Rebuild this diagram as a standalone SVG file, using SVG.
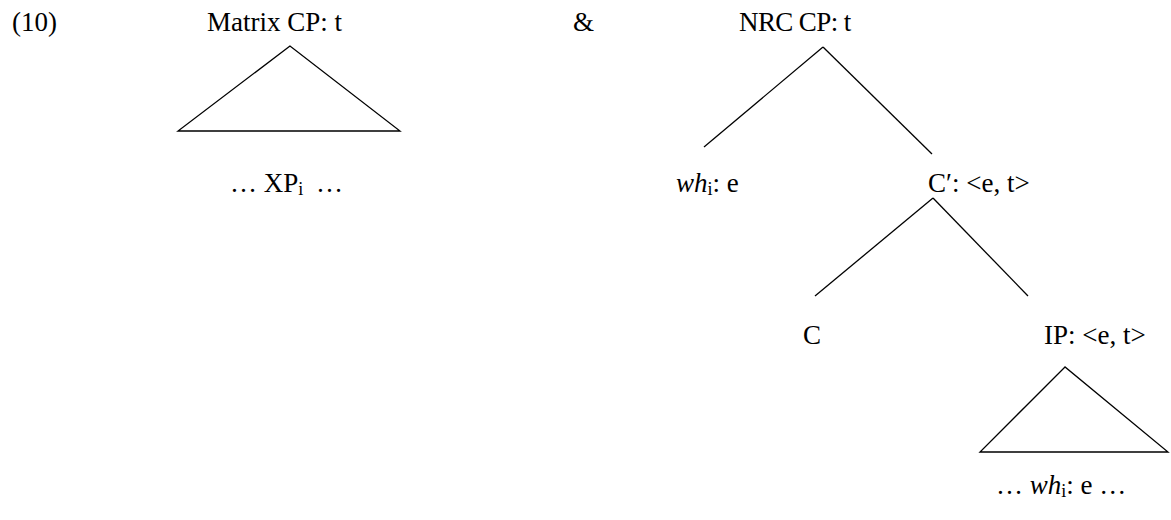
<svg xmlns="http://www.w3.org/2000/svg" width="1171" height="520" viewBox="0 0 1171 520">
<style>
text{font-family:"Liberation Serif","Times New Roman",serif;font-size:27px;fill:#000}
.sub{font-size:18px}
line,polygon{stroke:#000;stroke-width:1.3;fill:none}
</style>
<rect width="1171" height="520" fill="#fff"/>
<g id="label10"><text x="12" y="31">(10)</text></g>
<g id="matrix"><text x="207" y="31">Matrix CP: t</text></g>
<g id="amp"><text x="573" y="31">&amp;</text></g>
<g id="nrc"><text x="739" y="31" letter-spacing="-0.6">NRC CP: t</text></g>
<g id="xp"><text x="230" y="192">… XP<tspan class="sub" dy="3">i</tspan><tspan dy="-3" dx="6"> …</tspan></text></g>
<g id="wh"><text x="676" y="192"><tspan font-style="italic">wh</tspan><tspan class="sub" dy="3">i</tspan><tspan dy="-3">: e</tspan></text></g>
<g id="cbar"><text x="928" y="192">C′: &lt;e, t&gt;</text></g>
<g id="c"><text x="803" y="344">C</text></g>
<g id="ip"><text x="1044" y="344">IP: &lt;e, t&gt;</text></g>
<g id="whe"><text x="996" y="494">… <tspan font-style="italic">wh</tspan><tspan class="sub" dy="3">i</tspan><tspan dy="-3">: e …</tspan></text></g>
<g id="connectors">
<polygon points="290,46 178,131 400,131"/>
<line x1="823" y1="47" x2="704" y2="147"/>
<line x1="823" y1="47" x2="932" y2="154"/>
<line x1="933" y1="198" x2="815" y2="296"/>
<line x1="933" y1="198" x2="1028" y2="296"/>
<polygon points="1065,367 980,452 1168,452"/>
</g>
</svg>
